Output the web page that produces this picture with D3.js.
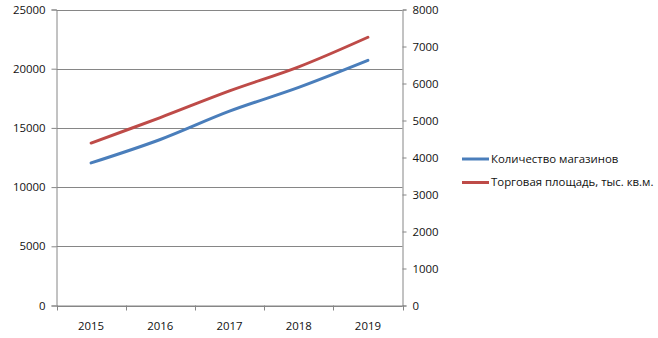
<!DOCTYPE html>
<html><head><meta charset="utf-8">
<script src="https://cdn.jsdelivr.net/npm/d3@7"></script>
<style>body{margin:0;background:#fff}svg{display:block}text{font-family:"Open Sans","DejaVu Sans",sans-serif;font-size:11.4px;fill:#111}</style>
</head><body>
<script>
const years = ["2015","2016","2017","2018","2019"];
const stores = [12040, 14020, 16410, 18420, 20700];
const area = [4390, 5080, 5800, 6450, 7250];
const leftTicks = [0,5000,10000,15000,20000,25000];
const rightTicks = [0,1000,2000,3000,4000,5000,6000,7000,8000];
const seriesNames = ["Количество магазинов","Торговая площадь, тыс. кв.м."];
const colors = ["#4a7ebb","#be4b48"];

const W=658,H=338, L=56.5, R=402.5, T=9.5, B=305.5;
const svg=d3.select("body").append("svg").attr("width",W).attr("height",H);
const x=d3.scaleBand().domain(years).range([L,R]);
const yL=d3.scaleLinear().domain([0,25000]).range([B,T]);
const yR=d3.scaleLinear().domain([0,8000]).range([B,T]);
const grid="#868686";
const font='"Open Sans","DejaVu Sans",sans-serif';

svg.append("g").selectAll("line").data(leftTicks).join("line")
  .attr("x1",L).attr("x2",R).attr("y1",d=>Math.round(yL(d))+0.5).attr("y2",d=>Math.round(yL(d))+0.5)
  .attr("stroke",grid);

const gl=svg.append("g").attr("transform",`translate(${L},0)`)
  .call(d3.axisLeft(yL).tickValues(leftTicks).tickFormat(d=>d).tickSize(5).tickPadding(6));
const gr=svg.append("g").attr("transform",`translate(${R},0)`)
  .call(d3.axisRight(yR).tickValues(rightTicks).tickFormat(d=>d).tickSize(4).tickPadding(6));
const gb=svg.append("g").attr("transform",`translate(0,${B})`)
  .call(d3.axisBottom(x).tickSize(0).tickPadding(16));
gb.selectAll(".tick line").remove();
svg.append("g").selectAll("line").data(d3.range(years.length+1)).join("line")
  .attr("x1",i=>Math.round(L+i*x.step())+0.5).attr("x2",i=>Math.round(L+i*x.step())+0.5)
  .attr("y1",B).attr("y2",B+5).attr("stroke",grid);
[gl,gr,gb].forEach(g=>{g.selectAll("path").attr("stroke",grid);g.selectAll("line").attr("stroke",grid);
  g.selectAll("text").style("font-family",font).style("font-size","11.4px").attr("fill","#111");});

const cx=d=>x(d)+x.bandwidth()/2;
const lineL=d3.line().x((d,i)=>cx(years[i])).y(d=>yL(d)).curve(d3.curveCatmullRom);
const lineR=d3.line().x((d,i)=>cx(years[i])).y(d=>yR(d)).curve(d3.curveCatmullRom);
svg.append("path").attr("d",lineL(stores)).attr("fill","none").attr("stroke",colors[0]).attr("stroke-width",3).attr("stroke-linecap","round");
svg.append("path").attr("d",lineR(area)).attr("fill","none").attr("stroke",colors[1]).attr("stroke-width",3).attr("stroke-linecap","round");

const lg=svg.append("g");
seriesNames.forEach((n,i)=>{
  const y=159+i*23.5;
  lg.append("line").attr("x1",462).attr("x2",489).attr("y1",y).attr("y2",y).attr("stroke",colors[i]).attr("stroke-width",3);
  lg.append("text").attr("x",491).attr("y",y).attr("dy","0.35em").text(n);
});
</script>
</body></html>
